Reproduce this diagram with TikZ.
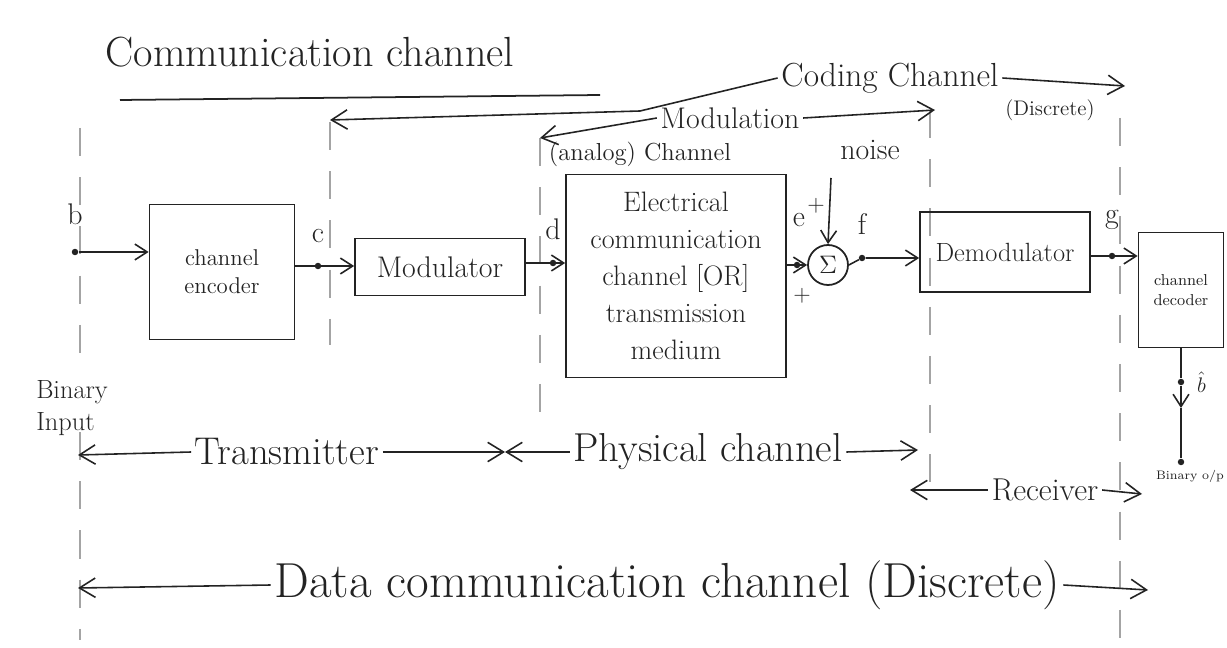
\documentclass[tikz,border=0pt]{standalone}
\usepackage{tikz}
\usetikzlibrary{arrows.meta,positioning,calc}
\definecolor{ink}{HTML}{232323}
\definecolor{guide}{HTML}{A4A4A4}

\begin{document}
\begin{tikzpicture}[x=0.02cm,y=-0.02cm,
  blk/.style={draw=ink,line width=1pt,align=center,inner sep=2pt,text=ink,font=\fontsize{16}{21}\selectfont},
  conn/.style={-{Straight Barb[length=7pt,width=9pt]},ink,line width=0.9pt},
  span/.style={-{Straight Barb[length=9pt,width=11pt]},ink,line width=0.9pt},
  guideline/.style={guide,line width=0.7pt,dash pattern=on 16pt off 12pt},
  dotpt/.style={circle,fill=ink,inner sep=1.3pt},
  sig/.style={text=ink,inner sep=1pt,font=\fontsize{17}{19}\selectfont},
  lbl/.style={text=ink,inner sep=2pt,align=center}
]
  \useasboundingbox[fill=white] (0,0) rectangle (1227,648);

  \foreach \x/\ya/\yb in {80/128/372, 80/432/640, 330/122/345, 540/138/415,
                          930/110/500, 1120/118/640}
    \draw[guideline] (\x,\ya) -- (\x,\yb);

  \node[lbl,font=\fontsize{24}{28}\selectfont] (title) at (310,52) {Communication channel};
  \coordinate (ul-l) at (120,100);
  \coordinate (ul-r) at (600,95);
  \draw[ink,line width=1pt] (ul-l) -- (ul-r);

  \node[lbl,font=\fontsize{19}{22}\selectfont] (cod) at (890,78) {Coding Channel};
  \node[lbl,font=\fontsize{12}{14}\selectfont] (disc) at (1050,110) {(Discrete)};
  \coordinate (cod-l) at (330,120);
  \coordinate (cod-b) at (640,111);
  \coordinate (cod-r) at (1125,86);
  \draw[span] (cod.west) -- (cod-b) -- (cod-l);
  \draw[span] (cod.east) -- (cod-r);

  \node[lbl,font=\fontsize{17}{20}\selectfont] (modl) at (730,118) {Modulation};
  \coordinate (modl-l) at (540,138);
  \coordinate (modl-r) at (935,110);
  \draw[span] (modl.west) -- (modl-l);
  \draw[span] (modl.east) -- (modl-r);
  \node[lbl,font=\fontsize{14}{16}\selectfont] (ana) at (640,154) {(analog) Channel};
  \node[lbl,font=\fontsize{17}{19}\selectfont] (noise) at (870,150) {noise};

  \node[blk,minimum width=2.9cm,minimum height=2.7cm,font=\fontsize{13}{16}\selectfont] (enc) at (222,272) {channel\\encoder};
  \node[blk,minimum width=3.4cm,minimum height=1.14cm,font=\fontsize{17}{20}\selectfont] (mod) at (440,267) {Modulator};
  \node[blk,minimum width=4.4cm,minimum height=4.06cm] (elec) at (676,276)
    {Electrical\\communication\\channel [OR]\\transmission\\medium};
  \node[draw=ink,line width=1pt,circle,minimum size=0.8cm,inner sep=0pt,text=ink,font=\Large] (sum) at (828,265) {$\Sigma$};
  \node[blk,minimum width=3.4cm,minimum height=1.6cm,font=\fontsize{15}{18}\selectfont] (demod) at (1005,252) {Demodulator};
  \node[blk,minimum width=1.7cm,minimum height=2.3cm,font=\fontsize{9}{11}\selectfont] (dec) at (1181,290) {channel\\decoder};

  \node[lbl,font=\fontsize{15}{18}\selectfont,align=left] (bin) at (72,408) {Binary\\Input};

  \node[dotpt] (db) at (75,252) {};
  \node[sig,above=12pt of db] (lb) {b};
  \draw[conn] (db) -- (db -| enc.west);

  \node[dotpt] (dc) at (318,266) {};
  \node[sig,above=10pt of dc] (lc) {c};
  \draw[conn] (dc -| enc.east) -- (dc -| mod.west);

  \node[dotpt] (dd) at (553,263) {};
  \node[sig,above=10pt of dd] (ld) {d};
  \draw[conn] (dd -| mod.east) -- (dd -| elec.west);

  \node[dotpt] (de) at (797,265) {};
  \node[sig] (le) at (799,220) {e};
  \draw[conn] (de -| elec.east) -- (sum.west);
  \node[sig,font=\fontsize{13}{15}\selectfont] (pl1) at (816,206) {+};
  \node[sig,font=\fontsize{13}{15}\selectfont] (pl2) at (802,296) {+};
  \coordinate (nz) at (831,178);
  \draw[conn] (nz) -- (sum.north);

  \node[dotpt] (df) at (862,258) {};
  \node[sig,above=10pt of df] (lf) {f};
  \draw[conn] (sum.east) -- (df) -- (df -| demod.west);

  \node[dotpt] (dg) at (1112,256) {};
  \node[sig,above=12pt of dg] (lg) {g};
  \draw[conn] (dg -| demod.east) -- (dg -| dec.west);

  \node[dotpt] (dbh) at (1181,382) {};
  \node[sig,right=6pt of dbh,font=\fontsize{13}{15}\selectfont] (lbh) {$\hat{b}$};
  \coordinate (vtip) at (1181,408);
  \node[dotpt] (dout) at (1181,462) {};
  \draw[ink,line width=0.9pt] (dec.south) -- (dbh);
  \draw[conn] (dbh) -- (vtip);
  \draw[ink,line width=0.9pt] (vtip) -- (dout);
  \node[lbl,font=\fontsize{7}{8}\selectfont,inner sep=0pt] (bout) at (1190,476) {Binary o/p};

  \node[lbl,font=\fontsize{22}{25}\selectfont] (tx) at (287,452) {Transmitter};
  \coordinate (tx-l) at (78,455);
  \coordinate (txph) at (505,452);
  \draw[span] (tx.west) -- (tx-l);
  \draw[span] (tx.east) -- (txph);
  \node[lbl,font=\fontsize{23}{26}\selectfont] (phy) at (708,452) {Physical channel};
  \coordinate (phy-r) at (918,450);
  \draw[span] (phy.west) -- (txph);
  \draw[span] (phy.east) -- (phy-r);

  \node[lbl,font=\fontsize{18}{21}\selectfont] (rx) at (1045,490) {Receiver};
  \coordinate (rx-l) at (910,490);
  \coordinate (rx-r) at (1142,494);
  \draw[span] (rx.west) -- (rx-l);
  \draw[span] (rx.east) -- (rx-r);

  \node[lbl,font=\fontsize{28}{32}\selectfont] (dcc) at (667,585) {Data communication channel (Discrete)};
  \coordinate (dcc-l) at (78,588);
  \coordinate (dcc-r) at (1148,590);
  \draw[span] (dcc.west) -- (dcc-l);
  \draw[span] (dcc.east) -- (dcc-r);
\end{tikzpicture}
\end{document}
